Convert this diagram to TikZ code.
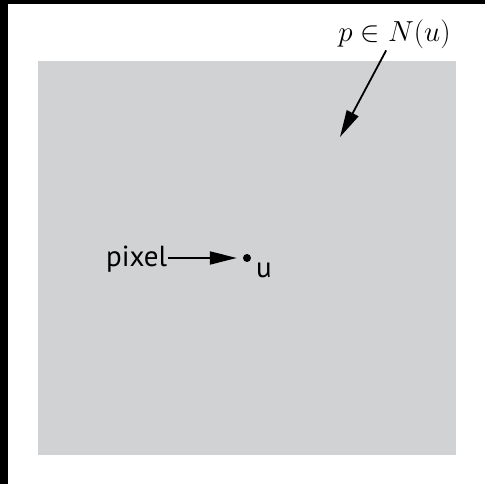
\RequirePackage{fix-cm}
\documentclass[tikz,border=0pt]{standalone}
\usepackage{fontspec}
\newfontfamily\pxfont{PT Sans}
\usepackage{tikz}
\usetikzlibrary{positioning,arrows.meta}
\definecolor{panegray}{RGB}{209,210,212}

\begin{document}
\begin{tikzpicture}[x=1pt, y=1pt, >={Triangle[length=27pt, width=13pt]},
    pointer/.style={->, line width=1.8pt},
    sanslabel/.style={font=\pxfont\fontsize{29}{33}\selectfont, inner sep=1pt}]

    \useasboundingbox (0,0) rectangle (485,484);
    \fill[white] (0,0) rectangle (485,484);

    % --- FRAME ---
    \fill[black] (0,0) rectangle (8,484);
    \fill[black] (0,480) rectangle (485,484);

    % --- NEIGHBOURHOOD ---
    \fill[panegray] (38,29) rectangle (456,423);
    \node[anchor=base, font=\fontsize{29}{34}\selectfont, inner sep=1pt] (nbr) at (394.5,442) {$p \in N(u)$};
    \coordinate (nbrtip) at (340,347);
    \draw[pointer] (nbr) -- (nbrtip);

    % --- PIXEL ---
    \node[circle, fill=black, minimum size=8pt, inner sep=0pt] (px) at (247,226) {};
    \node[sanslabel, anchor=base west] (pxl) at (105,217) {pixel};
    \node[sanslabel, anchor=base west] (pxu) at (255,206) {u};
    \draw[pointer, shorten >=6pt] (pxl.east |- px) -- (px);
\end{tikzpicture}
\end{document}
